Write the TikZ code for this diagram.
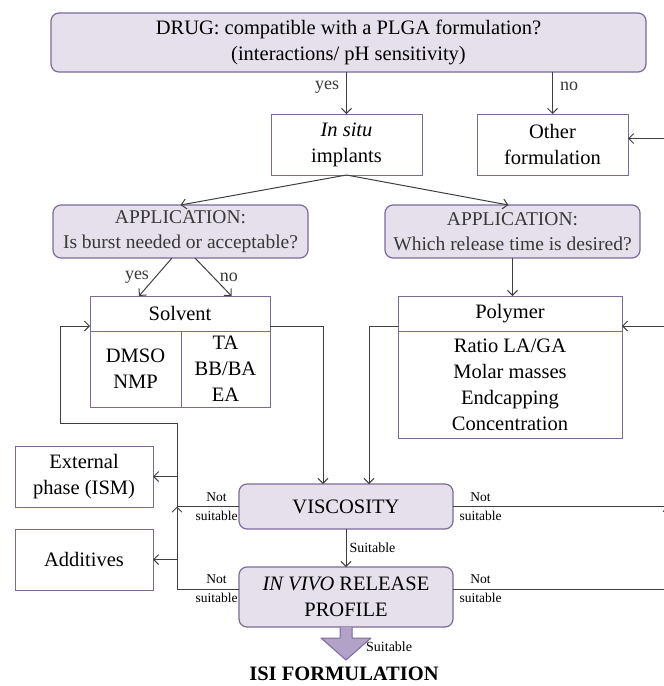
\documentclass[tikz,border=0pt]{standalone}
\usepackage{fontspec}
\setmainfont{Liberation Serif}
\usepackage{tikz}
\usetikzlibrary{positioning,arrows.meta,calc}
\definecolor{boxfill}{HTML}{E6E0EC}
\definecolor{boxline}{HTML}{7B6A98}
\definecolor{linegray}{HTML}{3F3F3F}
\definecolor{txtgray}{HTML}{383838}
\definecolor{fatfill}{HTML}{B3A2C7}
\definecolor{fatline}{HTML}{7F68A2}
\newcommand{\mainfs}{\fontsize{20.5}{26}\selectfont}
\newcommand{\appfs}{\fontsize{19.5}{25}\selectfont}
\newcommand{\smallfs}{\fontsize{13.5}{19}\selectfont}
\tikzset{
  qbox/.style   ={draw=boxline, fill=boxfill, rounded corners=8pt, line width=1.2pt, align=center, inner sep=0pt, outer sep=0pt, font=\mainfs},
  obox/.style   ={draw=boxline, fill=white, line width=1pt, align=center, inner sep=0pt, outer sep=0pt, font=\mainfs},
  arr/.style    ={-{Straight Barb[length=5pt,width=10pt]}, line width=1pt, draw=linegray},
  line/.style   ={line width=1pt, draw=linegray},
  yn/.style     ={font=\fontsize{18}{20}\selectfont, text=txtgray, inner sep=1pt},
  notsuit/.style={font=\smallfs, align=center, inner sep=1pt},
  suit/.style   ={font=\fontsize{14}{16}\selectfont, inner sep=1pt},
  fat/.style    ={draw=fatline, fill=fatfill, line width=1pt, line join=round},
}
\begin{document}
\begin{tikzpicture}[x=1pt, y=1pt]
  \useasboundingbox (0,0) rectangle (664,-686);
  \node[qbox, minimum width=595pt, minimum height=59pt] (drug) at (348.5,-42.5)
    {DRUG: compatible with a PLGA formulation?\\(interactions/ pH sensitivity)};
  \node[obox, minimum width=151pt, minimum height=61pt, below=42pt of drug, xshift=-2pt] (insitu) {\textit{In situ}\\implants};
  \node[obox, minimum width=151pt, minimum height=61pt, right=55pt of insitu] (other) {Other\\formulation};

  \node[qbox, font=\appfs, text=txtgray, minimum width=255pt, minimum height=53pt, below=30pt of insitu, xshift=-166pt] (appL)
    {APPLICATION:\\Is burst needed or acceptable?};
  \node[qbox, font=\appfs, text=txtgray, minimum width=255pt, minimum height=53pt, right=77pt of appL] (appR)
    {APPLICATION:\\Which release time is desired?};

  \node[obox, minimum width=180pt, minimum height=35pt, below=38pt of appL, xshift=-0.5pt] (solvhead) {Solvent};
  \node[obox, minimum width=91pt, minimum height=76pt, below right=0pt and 0pt of solvhead.south west] (solvL) {DMSO\\NMP};
  \node[obox, minimum width=89pt, minimum height=76pt, right=0pt of solvL] (solvR) {TA\\BB/BA\\EA};

  \node[obox, minimum width=224pt, minimum height=35pt, below=38pt of appR, xshift=-2.5pt] (polyhead) {Polymer};
  \node[obox, minimum width=224pt, minimum height=107pt, below=0pt of polyhead] (polybody)
    {Ratio LA/GA\\Molar masses\\Endcapping\\Concentration};

  \node[qbox, minimum width=214pt, minimum height=45pt, below right=77pt and 149pt of solvL.south west] (visc) {VISCOSITY};
  \node[qbox, minimum width=214pt, minimum height=60pt, below=38pt of visc] (invivo) {\textit{IN VIVO} RELEASE\\PROFILE};

  \node[obox, minimum width=138pt, minimum height=61pt, below right=39pt and -75pt of solvL.south west] (external) {External\\phase (ISM)};
  \node[obox, minimum width=138pt, minimum height=61pt, below=22pt of external] (additives) {Additives};

  \node[font=\bfseries\mainfs, inner sep=0pt, below=40pt of invivo, xshift=-2pt] (isi) {ISI FORMULATION};
  \node[suit, anchor=west] (suitlbl) at ([xshift=19pt,yshift=-20pt]invivo.south) {Suitable};

  % loop corners
  \coordinate (lx) at (177,-423);
  \coordinate (bx) at (60,-423);
  \coordinate (rx) at (668,-506);

  \draw[arr] (drug.south -| insitu) -- (insitu) node[yn, pos=0.35, left=6pt] {yes};
  \draw[arr] (drug.south -| other) -- (other) node[yn, pos=0.35, right=6pt] {no};
  \draw[arr] (insitu.south) -- (appL.north);
  \draw[arr] (insitu.south) -- ([xshift=-4pt]appR.north);
  \draw[arr] ([xshift=-8.5pt]appL.south) -- ([xshift=-41pt]solvhead.north) node[yn, midway, left=5pt] {yes};
  \draw[arr] ([xshift=14.5pt]appL.south) -- ([xshift=51.5pt]solvhead.north) node[yn, midway, right=5pt] {no};
  \draw[arr] (appR.south) -- (appR.south |- polyhead.north);

  \draw[arr] ([yshift=-12.5pt]solvhead.east) -| ([xshift=-23pt]visc.north);
  \draw[arr] ([yshift=-12.5pt]polyhead.west) -| ([xshift=23pt]visc.north);
  \draw[arr] (visc) -- (invivo) node[suit, midway, right=2pt] {Suitable};

  % not suitable, left side
  \draw[line] (visc.west) -- (visc.west -| lx) node[notsuit, at start, anchor=east] {Not\\suitable};
  \draw[arr] ([yshift=8pt]invivo.west) -| (visc.west -| lx) node[notsuit, at start, anchor=east] {Not\\suitable};
  \draw[arr] (visc.west -| lx) -- (lx) -- (bx) |- ([yshift=-12.5pt]solvhead.west);
  \draw[arr] (external.east -| lx) -- (external.east);
  \draw[arr] (additives.east -| lx) -- (additives.east);

  % not suitable, right side
  \draw[line] (visc.east) -- (visc.east -| rx) node[notsuit, at start, anchor=west, xshift=5pt] {Not\\suitable};
  \draw[arr] ([yshift=8pt]invivo.east) -| (rx) node[notsuit, at start, anchor=west, xshift=5pt] {Not\\suitable};
  \draw[arr] (rx) |- ([yshift=-12.5pt]polyhead.east);
  \draw[arr] (rx) |- ([yshift=6pt]other.east);

  \draw[fat] ([xshift=-6pt]invivo.south) -- ++(0,-11) -- ++(-19,0) -- ++(25,-22) -- ++(25,22) -- ++(-19,0) -- ++(0,11);
\end{tikzpicture}
\end{document}
